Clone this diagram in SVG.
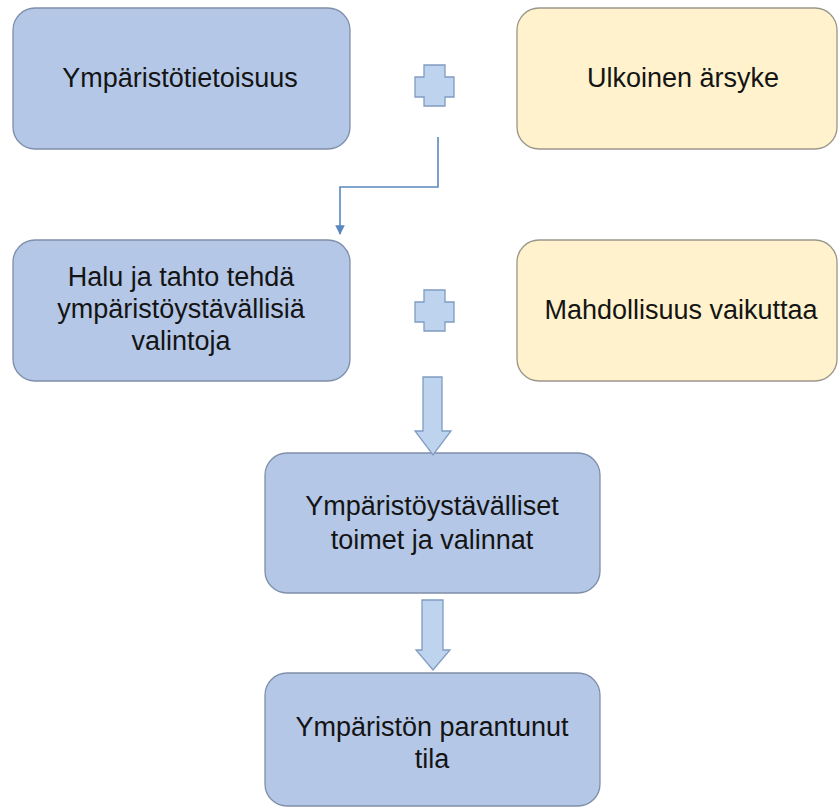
<svg xmlns="http://www.w3.org/2000/svg" width="838" height="809" viewBox="0 0 838 809">
  <defs>
    <style>
      .blue { fill: #B4C7E7; stroke: #7F8FA9; stroke-width: 1.3; }
      .yellow { fill: #FFF2CC; stroke: #9A968A; stroke-width: 1.3; }
      .shape { fill: #BDD3EE; stroke: #7F9CC2; stroke-width: 1.3; }
      .txt { font-family: "Liberation Sans", Arial, sans-serif; font-size: 27px; fill: #141414; text-anchor: middle; }
      .conn { fill: none; stroke: #5B87C0; stroke-width: 1.6; }
    </style>
    <marker id="ah" viewBox="0 0 10 10" refX="9" refY="5" markerWidth="6" markerHeight="6" orient="auto" markerUnits="strokeWidth">
      <path d="M0,0 L10,5 L0,10 z" fill="#5B87C0"/>
    </marker>
  </defs>
  <rect width="838" height="809" fill="#ffffff"/>

  <g id="n1">
    <rect class="blue" x="13" y="8" width="337" height="141" rx="22" ry="22"/>
    <text class="txt" x="180" y="87">Ympäristötietoisuus</text>
  </g>
  <g id="n2">
    <rect class="yellow" x="517" y="8" width="320" height="141" rx="22" ry="22"/>
    <text class="txt" x="683" y="87">Ulkoinen ärsyke</text>
  </g>
  <g id="plus1">
    <polygon class="shape" points="424,65 445,65 445,77 454,77 454,97 445,97 445,106 424,106 424,97 415,97 415,77 424,77"/>
  </g>
  <g id="n3">
    <rect class="blue" x="13" y="240" width="337" height="141" rx="22" ry="22"/>
    <text class="txt" x="181" y="286">Halu ja tahto tehdä</text>
    <text class="txt" x="181" y="318">ympäristöystävällisiä</text>
    <text class="txt" x="181" y="350">valintoja</text>
  </g>
  <g id="n4">
    <rect class="yellow" x="517" y="240" width="320" height="141" rx="22" ry="22"/>
    <text class="txt" x="681" y="319">Mahdollisuus vaikuttaa</text>
  </g>
  <g id="plus2">
    <polygon class="shape" points="424,290 445,290 445,302 454,302 454,322 445,322 445,331 424,331 424,322 415,322 415,302 424,302"/>
  </g>
  <g id="n5">
    <rect class="blue" x="265" y="453" width="335" height="140" rx="22" ry="22"/>
    <text class="txt" x="432" y="515">Ympäristöystävälliset</text>
    <text class="txt" x="432" y="549">toimet ja valinnat</text>
  </g>
  <g id="n6">
    <rect class="blue" x="265" y="673" width="335" height="133" rx="22" ry="22"/>
    <text class="txt" x="432" y="736">Ympäristön parantunut</text>
    <text class="txt" x="432" y="768">tila</text>
  </g>

  <g id="connectors">
    <polyline class="conn" points="438,137 438,187 340,187 340,234" marker-end="url(#ah)"/>
    <polygon class="shape" points="423,377 442,377 442,431 451,431 433,455 415,431 423,431"/>
    <polygon class="shape" points="422,600 443,600 443,650 450,650 433,670 416,650 422,650"/>
  </g>
</svg>
